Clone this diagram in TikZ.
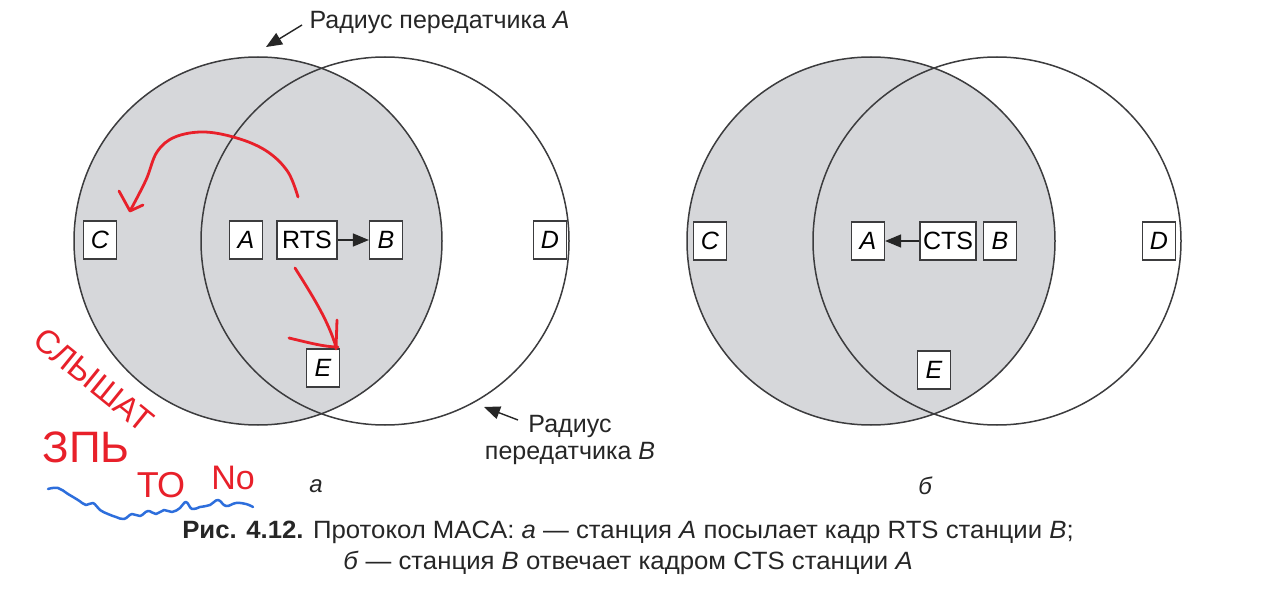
\documentclass[tikz,border=0pt]{standalone}
\usepackage{fontspec}
\setmainfont{Liberation Sans}
\newfontfamily\capfont[FakeStretch=1.03]{Liberation Sans}
\usetikzlibrary{arrows.meta,calc}
\definecolor{circfill}{RGB}{214,215,218}
\definecolor{linegray}{RGB}{60,60,62}
\definecolor{hred}{RGB}{232,32,42}
\definecolor{hblue}{RGB}{45,110,220}
\begin{document}
\begin{tikzpicture}[x=1pt,y=-1pt,
  stn/.style={draw=linegray, line width=1.2pt, fill=white, minimum width=33pt, minimum height=38pt, inner sep=0pt, font=\fontsize{25}{30}\selectfont\itshape},
  frm/.style={stn, font=\fontsize{25}{30}\selectfont, minimum width=60pt},
  circ/.style={draw=linegray, line width=1.5pt},
  ptr/.style={draw=black!85, line width=1.4pt, -{Triangle[length=16pt,width=13pt]}},
  lbl/.style={font=\fontsize{25}{27}\selectfont, text=black!85},
  hand/.style={draw=hred, line width=2.8pt, line cap=round, line join=round},
  htext/.style={text=hred, inner sep=0pt}
]
\useasboundingbox (0,0) rectangle (1280,591);
\fill[white] (0,0) rectangle (1280,591);

% left diagram
\fill[circfill] (258,241) circle[radius=184pt];
\draw[circ] (258,241) circle[radius=184pt];
\draw[circ] (385,241) circle[radius=184pt];
% right diagram
\fill[circfill] (871,241) circle[radius=184pt];
\draw[circ] (871,241) circle[radius=184pt];
\draw[circ] (997,241) circle[radius=184pt];

% stations, left
\node[stn] (C1) at (100,240) {C};
\node[stn] (A1) at (246,240) {A};
\node[frm] (RTS) at (307,240) {RTS};
\node[stn] (B1) at (386,240) {B};
\node[stn] (D1) at (550,240) {D};
\node[stn] (E1) at (323,368) {E};
\draw[ptr] (RTS) -- (B1);

% stations, right
\node[stn] (C2) at (710,241) {C};
\node[stn] (A2) at (868,241) {A};
\node[frm, minimum width=56pt] (CTS) at (948,241) {CTS};
\node[stn] (B2) at (1000,241) {B};
\node[stn] (D2) at (1159,241) {D};
\node[stn] (E2) at (934,370) {E};
\draw[ptr] (CTS) -- (A2);

% radius labels
\node[lbl, anchor=west] (labA) at (306,22) {Радиус передатчика \textit{A}};
\coordinate (tailA) at (302,25);
\coordinate (tipA) at (266,47);
\draw[ptr] (tailA) -- (tipA);
\node[lbl, align=center] (labB) at (570,440) {Радиус\\передатчика \textit{B}};
\coordinate (tailB) at (518,420);
\coordinate (tipB) at (484,407);
\draw[ptr] (tailB) -- (tipB);

% sub labels
\node[font=\fontsize{24}{28}\selectfont\itshape, text=black!85] (subA) at (316,486) {а};
\node[font=\fontsize{24}{28}\selectfont\itshape, text=black!85] (subB) at (925,486) {б};

% caption
\node[font=\capfont\fontsize{25}{31}\selectfont, align=center, text=black!85] (cap) at (628,548)
 {\textbf{Рис. 4.12.} Протокол MACA: \textit{а} — станция \textit{A} посылает кадр RTS станции \textit{B};\\
  \textit{б} — станция \textit{B} отвечает кадром CTS станции \textit{A}};

% handwritten annotations
\coordinate (r1s) at (298,197);
\coordinate (r1e) at (130,211);
\draw[hand] plot[smooth, tension=0.6] coordinates {(298,197) (288,172) (268,152) (240,139) (205,132) (175,137) (157,152) (146,180) (130,211)};
\draw[hand] (119,191) -- (r1e) -- (143,205);
\coordinate (r2s) at (295,268);
\coordinate (r2e) at (336,347);
\draw[hand] (r2s) .. controls (312,295) and (328,320) .. (r2e);
\draw[hand] (337,320) -- (336,349);
\draw[hand] (289,338) .. controls (310,343) and (325,347) .. (338,347);

\node[htext, font=\fontsize{33}{33}\selectfont, rotate=-39] (h1) at (94,380) {СЛЫШАТ};
\node[htext, font=\fontsize{44}{44}\selectfont] (h2) at (86,447) {ЗПЬ};
\node[htext, font=\fontsize{36}{36}\selectfont] (h3) at (161,485) {ТО};
\node[htext, font=\fontsize{34}{34}\selectfont] (h4) at (233,478) {No};

\draw[hblue, line width=2.5pt, line cap=round, line join=round] plot[smooth, tension=0.7] coordinates {(48,489) (58,488) (68,494) (78,500) (86,505) (93,503) (100,510) (108,514) (116,517) (124,519) (132,514) (140,516) (148,511) (156,514) (164,510) (172,512) (180,508) (186,502) (192,509) (200,507) (210,505) (218,500) (226,506) (236,503) (246,504) (253,507)};
\end{tikzpicture}
\end{document}
